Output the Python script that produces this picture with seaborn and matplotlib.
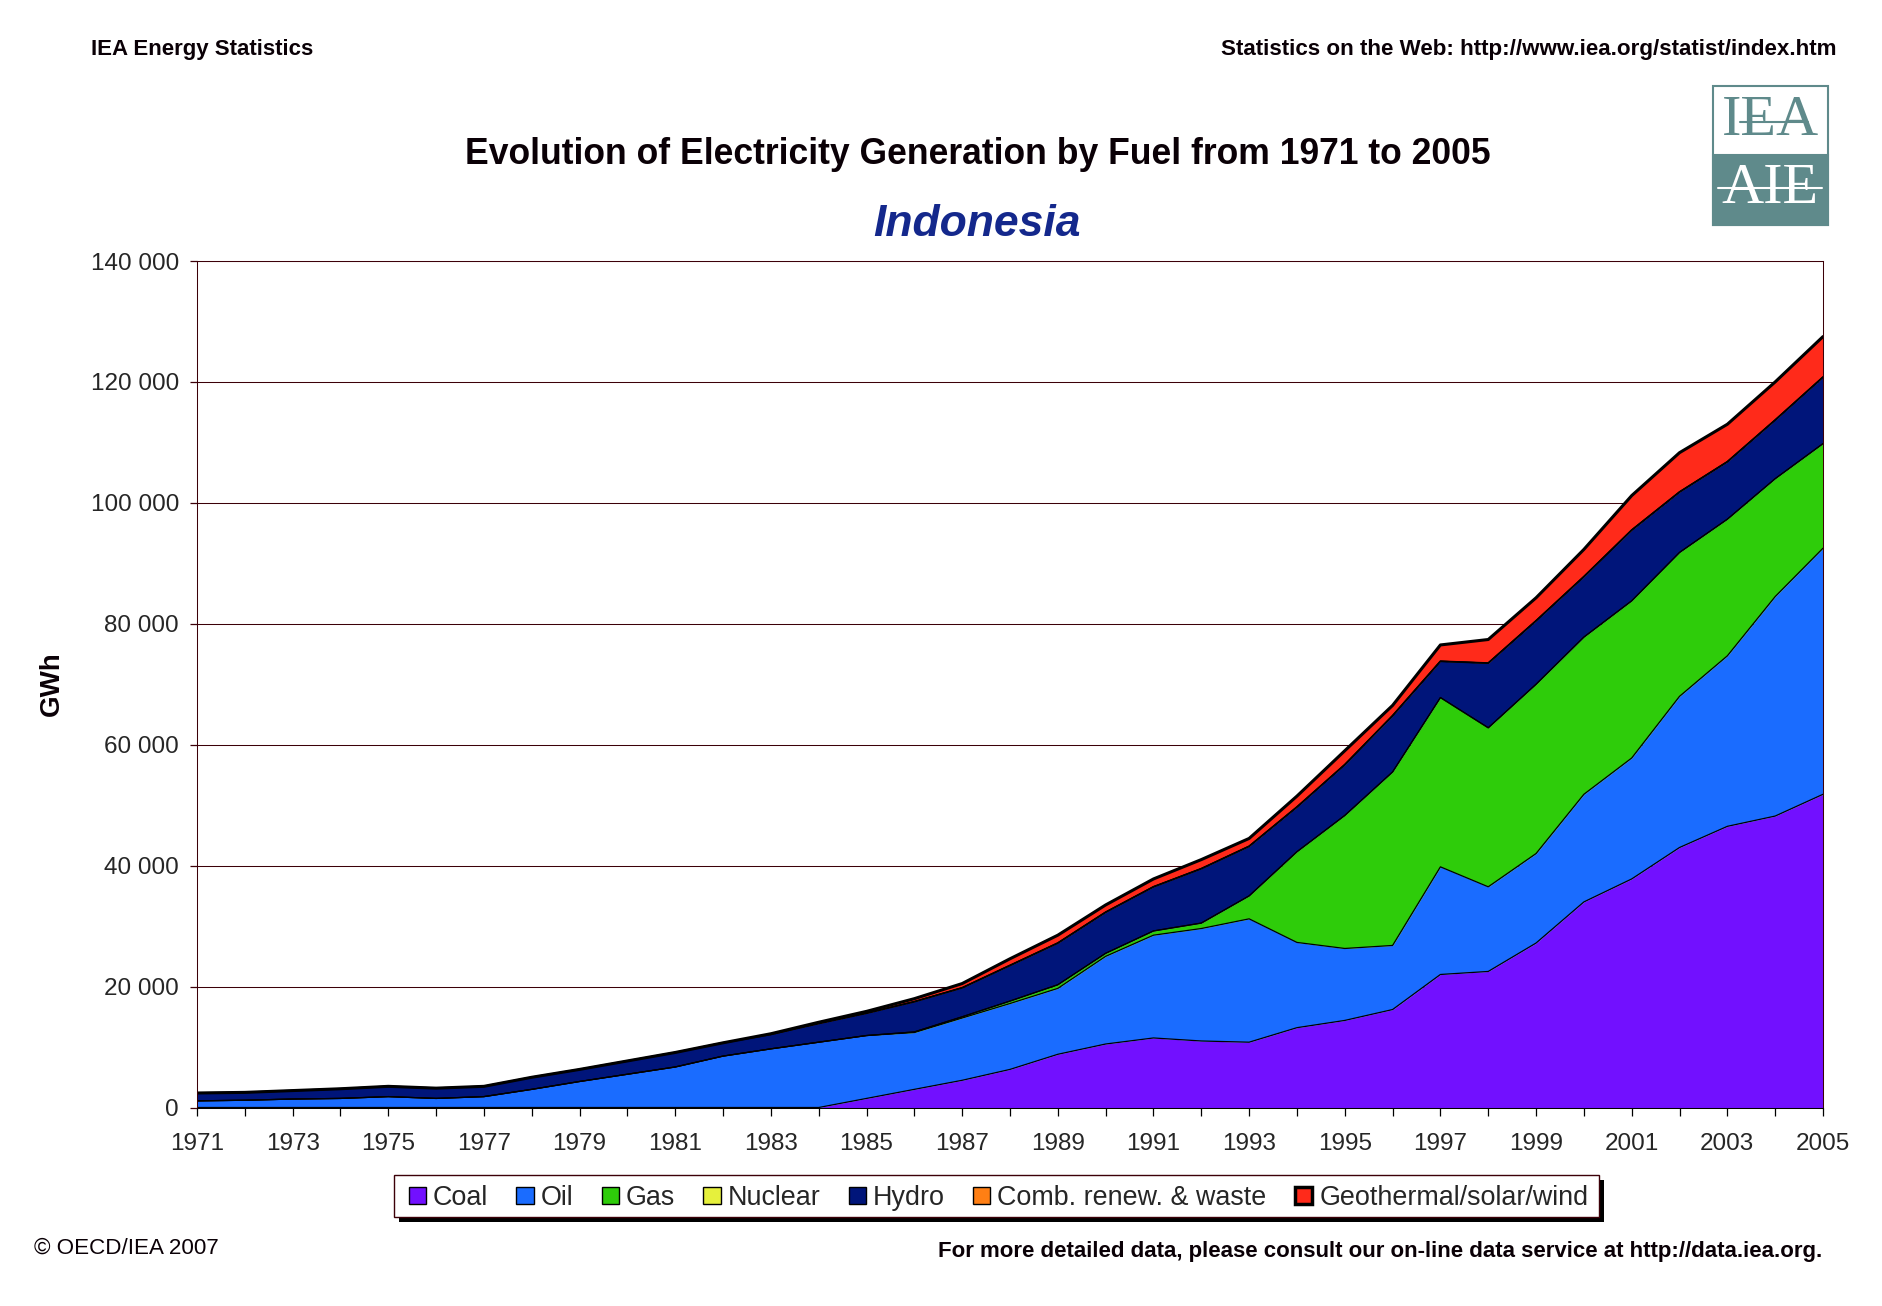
import numpy as np
import pandas as pd
import seaborn as sns
from matplotlib import pyplot as plt
from matplotlib.lines import Line2D
from matplotlib.patches import Patch, Rectangle

years = list(range(1971, 2006))

# GWh per fuel
coal = [0, 0, 0, 0, 0, 0, 0, 0, 0, 0, 0, 0, 0, 0, 1500, 3000, 4500, 6300, 8800, 10500, 11500, 11000, 10800, 13200,
        14400, 16200, 22000, 22500, 27200, 34000, 37800, 43000, 46500, 48200, 51800]
oil = [1100, 1200, 1400, 1500, 1800, 1500, 1800, 3000, 4300, 5500, 6700, 8500, 9700, 10800, 10400, 9400, 10300, 10900,
       10900, 14500, 17000, 18600, 20400, 14100, 11900, 10600, 17800, 14000, 14800, 17800, 20000, 25000, 28200, 36300, 40700]
gas = [0, 0, 0, 0, 0, 0, 0, 0, 0, 0, 0, 0, 0, 0, 0, 100, 200, 400, 600, 500, 700, 900, 3800, 15000, 22000, 28700,
       28000, 26300, 28000, 26000, 26000, 23800, 22600, 19500, 17300]
nuclear = [0] * 35
hydro = [1300, 1300, 1400, 1600, 1700, 1700, 1700, 2000, 2000, 2200, 2400, 2200, 2400, 3100, 3700, 5000, 4800, 5900,
         6900, 6800, 7300, 9000, 8200, 7400, 8400, 9300, 6000, 10700, 10500, 10000, 11700, 10000, 9500, 9700, 11000]
comb_renew = [0] * 35
geothermal = [0, 0, 0, 0, 0, 0, 0, 0, 0, 0, 0, 0, 100, 200, 300, 500, 700, 1100, 1300, 1200, 1300, 1500, 1300, 1800,
              2300, 1700, 2700, 3900, 3800, 4500, 5700, 6500, 6200, 6300, 6700]

fuels = ['Coal', 'Oil', 'Gas', 'Nuclear', 'Hydro', 'Comb. renew. & waste', 'Geothermal/solar/wind']
colors = ['#7210ff', '#1a6cff', '#2ecc0a', '#e6f03c', '#00157a', '#ff7f14', '#ff2a1a']
y_ticks = [0, 20000, 40000, 60000, 80000, 100000, 120000, 140000]
y_labels = ['0', '20 000', '40 000', '60 000', '80 000', '100 000', '120 000', '140 000']

W, H = 1883, 1306
FRAME = '#3c0008'

sns.set_style('white')
plt.rcParams['font.family'] = ['Liberation Sans', 'DejaVu Sans']


def px(x, y):
    return x / W, 1 - y / H


df = pd.DataFrame(dict(zip(fuels, [coal, oil, gas, nuclear, hydro, comb_renew, geothermal])), index=years)
df.index.name = 'year'
tops = df.cumsum(axis=1).reset_index().melt(id_vars='year', var_name='fuel', value_name='gwh')

fig = plt.figure(figsize=(W / 100, H / 100), dpi=100)
ax = fig.add_axes([197 / W, 1 - 1107.5 / H, 1626 / W, 846.5 / H])

ax.stackplot(years, df.T.values, colors=colors, linewidth=0, zorder=2)

# outlines between the layers, heavier along the hydro and total edges
sns.lineplot(data=tops, x='year', y='gwh', hue='fuel', palette=['black'] * 7, linewidth=0.9,
             legend=False, ax=ax, zorder=3)
sns.lineplot(data=tops[tops.fuel == 'Hydro'], x='year', y='gwh', color='black', linewidth=1.3, ax=ax, zorder=3)
sns.lineplot(data=tops[tops.fuel == fuels[-1]], x='year', y='gwh', color='black', linewidth=2.2, ax=ax, zorder=3)

ax.set_xlim(1971, 2005)
ax.set_ylim(0, 140000)
ax.set_xticks(years)
ax.set_xticklabels([str(y) if (y - 1971) % 2 == 0 else '' for y in years], fontsize=17.5)
ax.set_yticks(y_ticks)
ax.set_yticklabels(y_labels, fontsize=17.5)
ax.tick_params(axis='x', length=6, width=0.9, color='black', pad=12.5, bottom=True)
ax.tick_params(axis='y', length=5, width=0.9, color=FRAME, pad=8, left=True)
ax.set_xlabel('')
ax.set_ylabel('')
ax.grid(axis='y', color=FRAME, linewidth=0.75, zorder=1)
ax.set_axisbelow(True)
for name, spine in ax.spines.items():
    spine.set_visible(True)
    spine.set_color('black' if name == 'bottom' else FRAME)
    spine.set_linewidth(0.75)
    spine.set_zorder(4)

# legend box and its hard shadow sit under a frameless legend
fig.add_artist(Rectangle(px(399, 1222), 1205 / W, 42 / H, transform=fig.transFigure, facecolor='black',
                         edgecolor='black', linewidth=0, zorder=-2))
fig.add_artist(Rectangle(px(394, 1217), 1205 / W, 42 / H, transform=fig.transFigure, facecolor='white',
                         edgecolor=FRAME, linewidth=1.0, zorder=-1))
handles = [Patch(facecolor=c, edgecolor='black', linewidth=2.5 if f == fuels[-1] else 1.0)
           for f, c in zip(fuels, colors)]
leg = ax.legend(handles, fuels, ncol=7, fontsize=19.4, frameon=False, borderpad=0, borderaxespad=0,
                handlelength=0.64, handleheight=0.64, handletextpad=0.26, columnspacing=1.05,
                loc='center', bbox_to_anchor=px(998.5, 1198), bbox_transform=fig.transFigure)

txt = dict(color='#0a0006')
fig.text(*px(91, 55), 'IEA Energy Statistics', fontsize=16, fontweight='bold', **txt)
fig.text(*px(1837, 55), 'Statistics on the Web: http://www.iea.org/statist/index.htm', fontsize=16.1,
         fontweight='bold', ha='right', **txt)
fig.text(*px(978, 164), 'Evolution of Electricity Generation by Fuel from 1971 to 2005', fontsize=25.6,
         fontweight='bold', ha='center', **txt)
fig.text(*px(977, 236), 'Indonesia', fontsize=32, fontweight='bold', fontstyle='italic', ha='center',
         color='#14288c')
fig.text(*px(52, 684), 'GWh', fontsize=20, fontweight='bold', rotation=90, ha='center', va='center', **txt)
fig.text(*px(34, 1254), '\u00a9 OECD/IEA 2007', fontsize=16.1, **txt)
fig.text(*px(1822, 1257), 'For more detailed data, please consult our on-line data service at http://data.iea.org.',
         fontsize=16, fontweight='bold', ha='right', **txt)

# IEA / AIE logo block
TEAL = '#5f8a8b'
fig.add_artist(Rectangle(px(1713, 225), 115 / W, 139 / H, transform=fig.transFigure, facecolor='white',
                         edgecolor=TEAL, linewidth=1.5))
fig.add_artist(Rectangle(px(1713, 225), 115 / W, 70 / H, transform=fig.transFigure, facecolor=TEAL,
                         edgecolor=TEAL, linewidth=1.5))
fig.text(*px(1770, 121), 'IEA', fontsize=42, family='Liberation Serif', color=TEAL, ha='center', va='center')
fig.text(*px(1770, 189), 'AIE', fontsize=42, family='Liberation Serif', color='white', ha='center', va='center')
fig.add_artist(Line2D([1740 / W, 1808 / W], [1 - 122 / H, 1 - 122 / H], transform=fig.transFigure, color=TEAL, lw=1.5))
fig.add_artist(Line2D([1718 / W, 1822 / W], [1 - 188 / H, 1 - 188 / H], transform=fig.transFigure, color='white', lw=1.5))

fig.savefig('out.png', dpi=100)
